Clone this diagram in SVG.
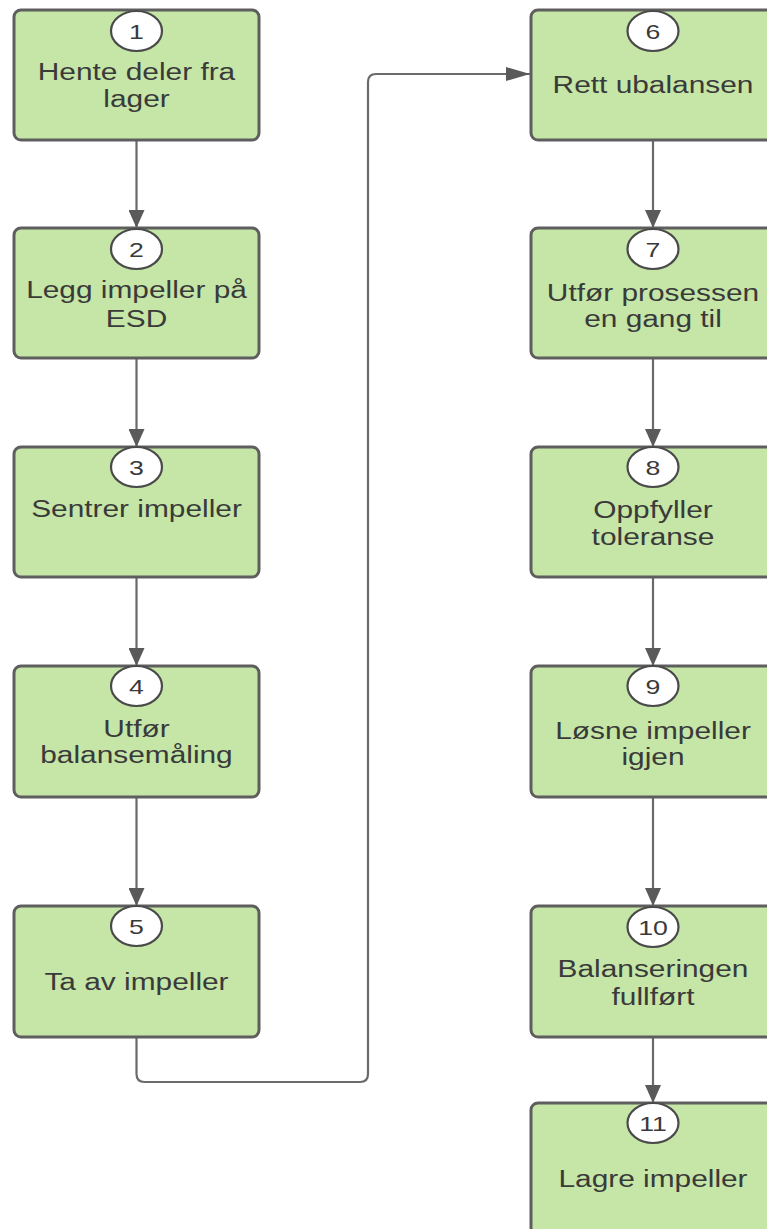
<svg xmlns="http://www.w3.org/2000/svg" width="767" height="1229" viewBox="0 0 767 1229">
<defs>
<style>
.box{fill:#c5e6a7;stroke:#5e5e5e;stroke-width:3}
.num{fill:#ffffff;stroke:#4a4a4a;stroke-width:2.2}
.t{font-family:"Liberation Sans",Arial,sans-serif;font-size:23.5px;fill:#3a3a3a;text-anchor:middle}
.d{font-family:"Liberation Sans",Arial,sans-serif;font-size:21px;fill:#3a3a3a;text-anchor:middle}
.c{fill:none;stroke:#6a6a6a;stroke-width:2.2}
</style>
<marker id="av" markerUnits="userSpaceOnUse" markerWidth="18" markerHeight="16" refX="18" refY="8" orient="auto" viewBox="0 0 18 16">
<path d="M0,0 L18,8 L0,16 z" fill="#5a5a5a"/>
</marker>
<marker id="ah" markerUnits="userSpaceOnUse" markerWidth="24" markerHeight="14" refX="24" refY="7" orient="auto" viewBox="0 0 24 14">
<path d="M0,0 L24,7 L0,14 z" fill="#5a5a5a"/>
</marker>
</defs>
<rect width="767" height="1229" fill="#ffffff"/>
<g id="connectors">
<line class="c" x1="136.5" y1="140" x2="136.5" y2="228" marker-end="url(#av)"/>
<line class="c" x1="136.5" y1="358" x2="136.5" y2="447" marker-end="url(#av)"/>
<line class="c" x1="136.5" y1="577" x2="136.5" y2="666" marker-end="url(#av)"/>
<line class="c" x1="136.5" y1="797" x2="136.5" y2="906" marker-end="url(#av)"/>
<path class="c" d="M136.5,1037 V1074 Q136.5,1082 144.5,1082 H360 Q368,1082 368,1074 V82 Q368,74 376,74 H530" marker-end="url(#ah)"/>
<line class="c" x1="653" y1="140" x2="653" y2="228" marker-end="url(#av)"/>
<line class="c" x1="653" y1="358" x2="653" y2="447" marker-end="url(#av)"/>
<line class="c" x1="653" y1="577" x2="653" y2="666" marker-end="url(#av)"/>
<line class="c" x1="653" y1="797" x2="653" y2="906" marker-end="url(#av)"/>
<line class="c" x1="653" y1="1037" x2="653" y2="1103" marker-end="url(#av)"/>
</g>
<g id="n1">
<rect class="box" x="14" y="10" width="245" height="130" rx="7"/>
<ellipse class="num" cx="136.5" cy="31" rx="25.5" ry="20"/>
<text class="d" transform="translate(136.5 38.5) scale(1.27 1)">1</text>
<text class="t" transform="translate(136.5 80) scale(1.27 1)">Hente deler fra</text>
<text class="t" transform="translate(136.5 107) scale(1.27 1)">lager</text>
</g>
<g id="n2">
<rect class="box" x="14" y="228" width="245" height="130" rx="7"/>
<ellipse class="num" cx="136.5" cy="249" rx="25.5" ry="20"/>
<text class="d" transform="translate(136.5 256.5) scale(1.27 1)">2</text>
<text class="t" transform="translate(136.5 298) scale(1.27 1)">Legg impeller på</text>
<text class="t" transform="translate(136.5 327) scale(1.27 1)">ESD</text>
</g>
<g id="n3">
<rect class="box" x="14" y="447" width="245" height="130" rx="7"/>
<ellipse class="num" cx="136.5" cy="467" rx="25.5" ry="20"/>
<text class="d" transform="translate(136.5 474.5) scale(1.27 1)">3</text>
<text class="t" transform="translate(136.5 517) scale(1.27 1)">Sentrer impeller</text>
</g>
<g id="n4">
<rect class="box" x="14" y="666" width="245" height="131" rx="7"/>
<ellipse class="num" cx="136.5" cy="686" rx="25.5" ry="20"/>
<text class="d" transform="translate(136.5 693.5) scale(1.27 1)">4</text>
<text class="t" transform="translate(136.5 737) scale(1.27 1)">Utfør</text>
<text class="t" transform="translate(136.5 763) scale(1.27 1)">balansemåling</text>
</g>
<g id="n5">
<rect class="box" x="14" y="906" width="245" height="131" rx="7"/>
<ellipse class="num" cx="136.5" cy="926" rx="25.5" ry="20"/>
<text class="d" transform="translate(136.5 933.5) scale(1.27 1)">5</text>
<text class="t" transform="translate(136.5 990) scale(1.27 1)">Ta av impeller</text>
</g>
<g id="n6">
<rect class="box" x="531" y="10" width="250" height="130" rx="7"/>
<ellipse class="num" cx="653" cy="31" rx="25.5" ry="20"/>
<text class="d" transform="translate(653 38.5) scale(1.27 1)">6</text>
<text class="t" transform="translate(653 93) scale(1.27 1)">Rett ubalansen</text>
</g>
<g id="n7">
<rect class="box" x="531" y="228" width="250" height="130" rx="7"/>
<ellipse class="num" cx="653" cy="249" rx="25.5" ry="20"/>
<text class="d" transform="translate(653 256.5) scale(1.27 1)">7</text>
<text class="t" transform="translate(653 301) scale(1.27 1)">Utfør prosessen</text>
<text class="t" transform="translate(653 327) scale(1.27 1)">en gang til</text>
</g>
<g id="n8">
<rect class="box" x="531" y="447" width="250" height="130" rx="7"/>
<ellipse class="num" cx="653" cy="467" rx="25.5" ry="20"/>
<text class="d" transform="translate(653 474.5) scale(1.27 1)">8</text>
<text class="t" transform="translate(653 518) scale(1.27 1)">Oppfyller</text>
<text class="t" transform="translate(653 545) scale(1.27 1)">toleranse</text>
</g>
<g id="n9">
<rect class="box" x="531" y="666" width="250" height="131" rx="7"/>
<ellipse class="num" cx="653" cy="686" rx="25.5" ry="20"/>
<text class="d" transform="translate(653 693.5) scale(1.27 1)">9</text>
<text class="t" transform="translate(653 739) scale(1.27 1)">Løsne impeller</text>
<text class="t" transform="translate(653 765) scale(1.27 1)">igjen</text>
</g>
<g id="n10">
<rect class="box" x="531" y="906" width="250" height="131" rx="7"/>
<ellipse class="num" cx="653" cy="927" rx="25.5" ry="20"/>
<text class="d" transform="translate(653 934.5) scale(1.27 1)">10</text>
<text class="t" transform="translate(653 977) scale(1.27 1)">Balanseringen</text>
<text class="t" transform="translate(653 1005) scale(1.27 1)">fullført</text>
</g>
<g id="n11">
<rect class="box" x="531" y="1103" width="250" height="140" rx="7"/>
<ellipse class="num" cx="653" cy="1123" rx="25.5" ry="20"/>
<text class="d" transform="translate(653 1130.5) scale(1.27 1)">11</text>
<text class="t" transform="translate(653 1187) scale(1.27 1)">Lagre impeller</text>
</g>
</svg>
